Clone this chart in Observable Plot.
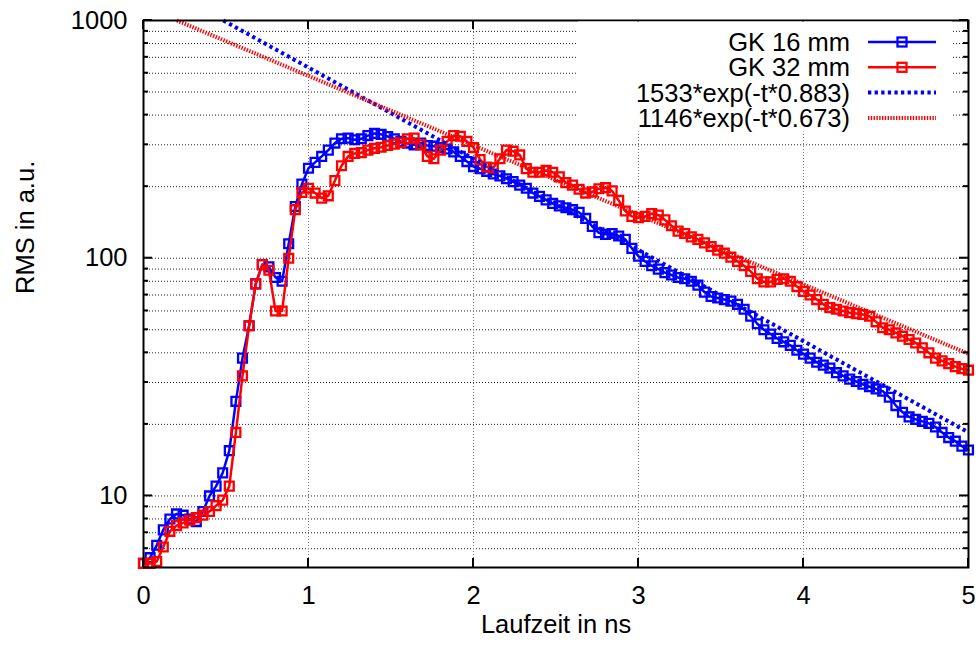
<!DOCTYPE html>
<html><head><meta charset="utf-8">
<script src="https://cdn.jsdelivr.net/npm/d3@7"></script>
<script src="https://cdn.jsdelivr.net/npm/@observablehq/plot@0.6"></script>
<style>body{margin:0;background:#fff} svg{display:block}</style>
</head><body><div id="chart"></div>
<script>
// time axis (ns)
const times = [
0,0.04,0.08,0.12,0.16,0.2,0.24,0.28,0.32,0.36,
0.4,0.44,0.48,0.52,0.56,0.6,0.64,0.68,0.72,0.76,
0.8,0.84,0.88,0.92,0.96,1,1.04,1.08,1.12,1.16,
1.2,1.24,1.28,1.32,1.36,1.4,1.44,1.48,1.52,1.56,
1.6,1.64,1.68,1.72,1.76,1.8,1.84,1.88,1.92,1.96,
2,2.04,2.08,2.12,2.16,2.2,2.24,2.28,2.32,2.36,
2.4,2.44,2.48,2.52,2.56,2.6,2.64,2.68,2.72,2.76,
2.8,2.84,2.88,2.92,2.96,3,3.04,3.08,3.12,3.16,
3.2,3.24,3.28,3.32,3.36,3.4,3.44,3.48,3.52,3.56,
3.6,3.64,3.68,3.72,3.76,3.8,3.84,3.88,3.92,3.96,
4,4.04,4.08,4.12,4.16,4.2,4.24,4.28,4.32,4.36,
4.4,4.44,4.48,4.52,4.56,4.6,4.64,4.68,4.72,4.76,
4.8,4.84,4.88,4.92,4.96,5];

// GK 16 mm
const rms16 = [
5.2,5.5,6.2,7.2,8.0,8.4,8.3,8.0,7.8,8.6,
10.0,11.0,12.5,15.5,25,38,52,78,94,92,
83,80,115,165,205,239,253,268,285,305,
318,320,315,318,328,335,332,325,318,310,
305,300,305,298,296,292,288,280,268,255,
243,238,232,226,222,216,210,203,197,188,
182,176,170,166,163,160,156,147,136,128,
126,127,124,120,110,102,97,93,90,87,
85,83,82,80,77,72,69,68,67,66,
64,61,57,53,50,48,46,44.5,43,41,
39.5,38,36.5,35.5,34.5,33,32,31,30.3,29.5,
28.8,28.2,27.6,26,24,22.5,21.5,21,20.6,20.2,
19.5,18.5,17.6,17,16.2,15.6];

// GK 32 mm
const rms32 = [
5.2,5.2,5.3,6.1,7.1,7.5,7.7,7.9,8.1,8.3,
8.6,9.1,9.6,11,18.5,32,52,78,94,89,
60,60,100,160,189,197,188,179,183,212,
245,268,276,278,285,290,293,298,302,306,
318,320,300,268,262,285,310,328,326,310,
292,260,242,240,262,285,282,272,238,230,
230,234,230,220,208,203,195,188,190,196,
198,192,175,158,150,148,150,154,152,145,
137,130,127,123,120,116,112,108,105,101,
97,93,88,82,79.5,79.5,81.5,82,80,76,
72.5,70,67,64,62,61,60,59,58.5,58,
57,54,51,50,48.5,47,45.5,44,42,40,
38,37,36,35,34.3,33.8];

// exponential fits (straight lines on the log axis): end points
const fit16T = [0.484, 5];
const fit16V = [1000, 18.5];
const fit32T = [0.2025, 5];
const fit32V = [1000, 39.6];

const seriesNames = ["GK 16 mm", "GK 32 mm", "1533*exp(-t*0.883)", "1146*exp(-t*0.673)"];
const xTicks = [0, 1, 2, 3, 4, 5];
const xGrid = [1, 2, 3, 4];
const yTicks = [10, 100, 1000];
const yMinor = [6, 7, 8, 9, 20, 30, 40, 50, 60, 70, 80, 90, 200, 300, 400, 500, 600, 700, 800, 900];
const xLabel = "Laufzeit in ns";
const yLabel = "RMS in a.u.";

const BLUE = "#0000ff", RED = "#ff0000";
const rows16 = times.map((t, i) => ({t, v: rms16[i]}));
const rows32 = times.map((t, i) => ({t, v: rms32[i]}));
const fit16 = fit16T.map((t, i) => ({t, v: fit16V[i]}));
const fit32 = fit32T.map((t, i) => ({t, v: fit32V[i]}));
const gridY = [...yMinor, 10, 100];

const FONT = "'Liberation Sans', Arial, Helvetica, sans-serif";
const FS = 25.5;

const chart = Plot.plot({
  width: 979, height: 646,
  marginLeft: 143, marginRight: 11, marginTop: 20, marginBottom: 79,
  style: {fontFamily: FONT, fontSize: FS + "px", background: "white", color: "black"},
  x: {domain: [0, 5]},
  y: {type: "log", domain: [5, 1000]},
  marks: [
    Plot.ruleY(gridY, {stroke: "#222", strokeWidth: 1, strokeDasharray: "1,2"}),
    Plot.ruleX(xGrid, {stroke: "#777", strokeWidth: 1, strokeDasharray: "1,2"}),
    Plot.line(rows16, {x: "t", y: "v", stroke: BLUE, strokeWidth: 2.5}),
    Plot.dot(rows16, {x: "t", y: "v", symbol: "square", r: 5, stroke: BLUE, strokeWidth: 2.3, fill: "none"}),
    Plot.line(rows32, {x: "t", y: "v", stroke: RED, strokeWidth: 2.5}),
    Plot.dot(rows32, {x: "t", y: "v", symbol: "square", r: 5, stroke: RED, strokeWidth: 2.3, fill: "none"}),
    Plot.line(fit16, {x: "t", y: "v", stroke: BLUE, strokeWidth: 4, strokeDasharray: "3.3,3.3", strokeLinecap: "butt"}),
    Plot.line(fit32, {x: "t", y: "v", stroke: RED, strokeWidth: 4, strokeDasharray: "1.4,1.4", strokeLinecap: "butt"}),
    Plot.frame({stroke: "black", strokeWidth: 2}),
    Plot.axisX(xTicks, {tickSize: 0, tickPadding: 18, fontSize: FS, label: null, tickFormat: d => String(d)}),
    Plot.axisY(yTicks, {tickSize: 0, tickPadding: 16, fontSize: FS, label: null, tickFormat: d => String(d)}),
    Plot.text([xLabel], {frameAnchor: "bottom", dy: 65, fontSize: FS}),
    Plot.text([yLabel], {frameAnchor: "left", dx: -118, rotate: -90, fontSize: FS})
  ]
});

document.getElementById("chart").appendChild(chart);

// inward ticks on all four sides, positioned with the plot's own scales
const sx = chart.scale("x"), sy = chart.scale("y");
const svg = d3.select(chart);
const X0 = sx.apply(0), X1 = sx.apply(5), Y0 = sy.apply(5), Y1 = sy.apply(1000);
const tg = svg.append("g").attr("stroke", "black").attr("stroke-width", 2);
function tickY(v, len) {
  const y = sy.apply(v);
  tg.append("line").attr("x1", X0).attr("x2", X0 + len).attr("y1", y).attr("y2", y);
  tg.append("line").attr("x1", X1).attr("x2", X1 - len).attr("y1", y).attr("y2", y);
}
yTicks.forEach(v => tickY(v, 9));
yMinor.forEach(v => tickY(v, 5));
xTicks.forEach(v => {
  const x = sx.apply(v);
  tg.append("line").attr("x1", x).attr("x2", x).attr("y1", Y0).attr("y2", Y0 - 9);
  tg.append("line").attr("x1", x).attr("x2", x).attr("y1", Y1).attr("y2", Y1 + 9);
});

// key (opaque box, as in gnuplot)
const key = svg.append("g").attr("font-family", FONT).attr("font-size", FS);
key.append("rect").attr("x", 578).attr("y", Y1 + 1.5).attr("width", 374).attr("height", 110).attr("fill", "white");
const styles = [
  {stroke: BLUE, dash: null, w: 2.5, marker: true},
  {stroke: RED, dash: null, w: 2.5, marker: true},
  {stroke: BLUE, dash: "3.3,3.3", w: 4, marker: false},
  {stroke: RED, dash: "1.4,1.4", w: 4, marker: false}
];
seriesNames.forEach((name, i) => {
  const cy = 42 + i * 25.3;
  key.append("text").attr("x", 850).attr("y", cy).attr("dy", "0.35em").attr("text-anchor", "end").attr("fill", "black").text(name);
  const s = styles[i];
  key.append("line").attr("x1", 868).attr("x2", 936).attr("y1", cy).attr("y2", cy)
    .attr("stroke", s.stroke).attr("stroke-width", s.w).attr("stroke-dasharray", s.dash);
  if (s.marker) key.append("rect").attr("x", 897.5).attr("y", cy - 4.5).attr("width", 9).attr("height", 9)
    .attr("fill", "none").attr("stroke", s.stroke).attr("stroke-width", 2.3);
});
</script>
</body></html>
